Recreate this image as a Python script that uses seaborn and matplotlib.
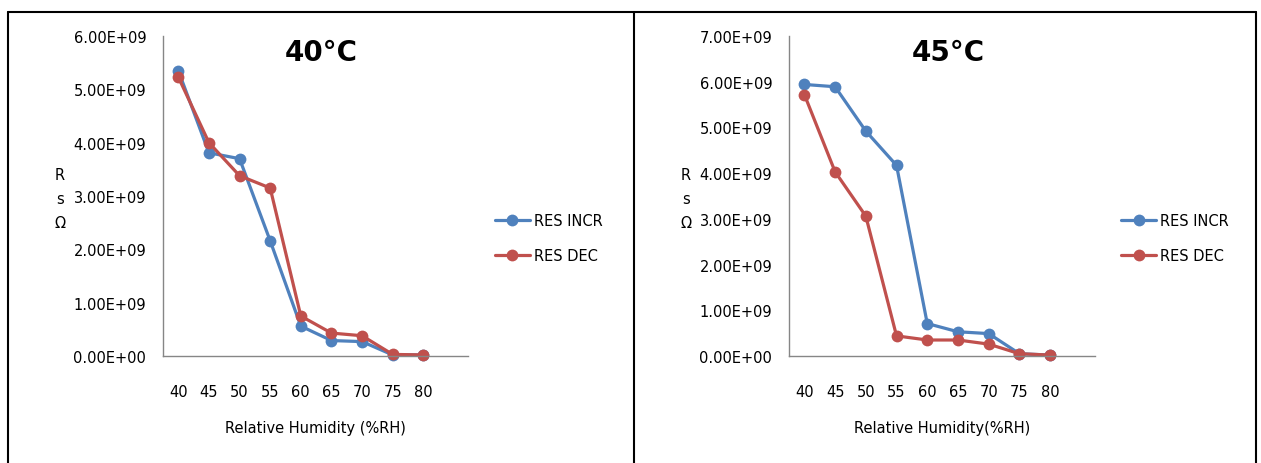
import pandas as pd
import numpy as np
import seaborn as sns
import matplotlib.pyplot as plt
from matplotlib.ticker import FuncFormatter

# --- dati ---
rh = [40, 45, 50, 55, 60, 65, 70, 75, 80]

incr_40 = [5.35e9, 3.81e9, 3.70e9, 2.16e9, 0.56e9, 0.29e9, 0.27e9, 0.02e9, 0.02e9]
dec_40 = [5.23e9, 4.00e9, 3.38e9, 3.15e9, 0.75e9, 0.43e9, 0.38e9, 0.03e9, 0.02e9]

incr_45 = [5.94e9, 5.89e9, 4.92e9, 4.17e9, 0.71e9, 0.53e9, 0.49e9, 0.05e9, 0.02e9]
dec_45 = [5.72e9, 4.03e9, 3.06e9, 0.44e9, 0.35e9, 0.35e9, 0.26e9, 0.05e9, 0.02e9]

series_names = ['RES INCR', 'RES DEC']
titles = ['40°C', '45°C']
xlabels = ['Relative Humidity (%RH)', 'Relative Humidity(%RH)']
ymax = [6e9, 7e9]

colors = {'RES INCR': '#4F81BD', 'RES DEC': '#C0504D'}

sns.set_style('white')
plt.rcParams['font.family'] = ['DejaVu Sans Condensed', 'DejaVu Sans']
plt.rcParams['text.color'] = 'black'

fs = 10.5

fig = plt.figure(figsize=(12.61, 4.64), dpi=100)

panels = [
    (incr_40, dec_40, 163, 468, 0.3925),
    (incr_45, dec_45, 789, 1095, 0.889),
]

for i, (inc, dec, x0, x1, leg_x) in enumerate(panels):
    ax = fig.add_axes([x0 / 1261, 1 - 357 / 464, (x1 - x0) / 1261, 320 / 464])
    df = pd.DataFrame({
        'rh': rh * 2,
        'res': inc + dec,
        'serie': [series_names[0]] * len(rh) + [series_names[1]] * len(rh),
    })
    sns.lineplot(data=df, x='rh', y='res', hue='serie', hue_order=series_names,
                 palette=colors, marker='o', markersize=8.5, markeredgewidth=0,
                 linewidth=2.3, ax=ax)
    for ln in ax.lines:
        ln.set_clip_on(False)

    ax.set_xlim(37.5, 87.3)
    ax.set_ylim(0, ymax[i])
    ax.set_xticks(rh)
    ax.set_yticks(np.arange(0, ymax[i] + 1, 1e9))
    ax.yaxis.set_major_formatter(FuncFormatter(lambda v, p: f'{v:.2E}'))
    ax.tick_params(axis='both', length=0, labelsize=fs, colors='black')
    ax.tick_params(axis='y', pad=12)
    ax.tick_params(axis='x', pad=20)
    for s in ['top', 'right']:
        ax.spines[s].set_visible(False)
    for s in ['left', 'bottom']:
        ax.spines[s].set_color('#868686')
        ax.spines[s].set_linewidth(1)
    ax.set_xlabel('')
    ax.set_ylabel('')

    ax.text(0.52, 0.95, titles[i], transform=ax.transAxes, ha='center', va='center',
            fontsize=20, fontweight='bold', color='black')

    cx = (x0 + x1) / 2
    fig.text(cx / 1261, 1 - 429 / 464, xlabels[i], ha='center', va='center', fontsize=fs)
    fig.text((x0 - 103) / 1261, 1 - 200 / 464, 'R\ns\nΩ', ha='center', va='center',
             fontsize=fs, linespacing=1.75)

    handles, labels = ax.get_legend_handles_labels()
    ax.get_legend().remove()
    fig.legend(handles, labels, loc='center left', bbox_to_anchor=(leg_x, 1 - 239 / 464),
               bbox_transform=fig.transFigure, frameon=False, fontsize=fs,
               handlelength=2.4, handletextpad=0.3, labelspacing=1.4,
               borderpad=0, borderaxespad=0)

# bordi dei riquadri
for (xa, ya, xb, yb) in [(8, 13, 1256, 13), (8, 13, 8, 464), (634, 13, 634, 464), (1256, 13, 1256, 464)]:
    fig.add_artist(plt.Line2D([xa / 1261, xb / 1261], [1 - ya / 464, 1 - yb / 464],
                              transform=fig.transFigure, color='black', linewidth=1.5))

plt.savefig('out.png', dpi=100)
